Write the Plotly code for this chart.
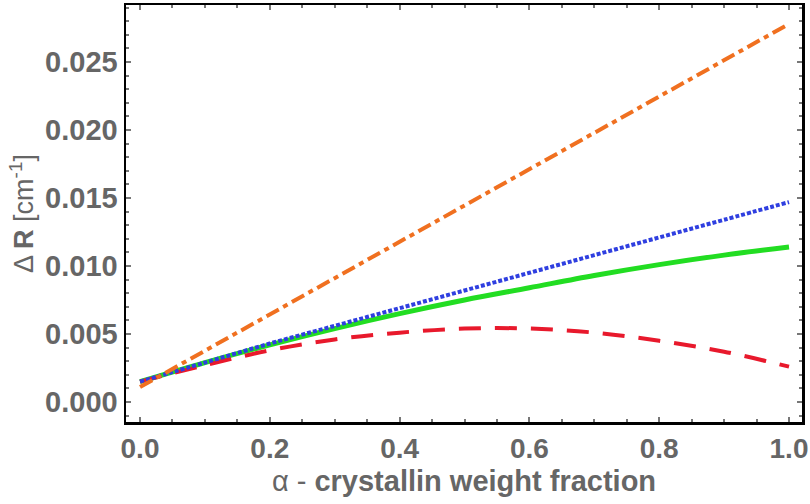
import plotly.graph_objects as go

x_vals = [0.0, 0.1, 0.2, 0.3, 0.4, 0.5, 0.6, 0.7, 0.8, 0.9, 1.0]
orange_vals = [0.0011, 0.00377, 0.00644, 0.00911, 0.01178, 0.01445, 0.01712, 0.01979, 0.02246, 0.02513, 0.0278]
blue_vals = [0.0015, 0.0029, 0.0043, 0.0056, 0.0069, 0.0082, 0.0095, 0.0108, 0.0121, 0.0134, 0.0147]
green_vals = [0.0015, 0.0029, 0.0042, 0.0054, 0.0065, 0.0075, 0.0084, 0.0093, 0.0101, 0.0108, 0.0114]
red_vals = [0.0015, 0.0027, 0.0038, 0.0046, 0.0051, 0.0054, 0.0054, 0.0051, 0.0045, 0.0037, 0.0026]

x_ticks = [0.0, 0.2, 0.4, 0.6, 0.8, 1.0]
x_tick_labels = ["0.0", "0.2", "0.4", "0.6", "0.8", "1.0"]
y_ticks = [0.0, 0.005, 0.010, 0.015, 0.020, 0.025]
y_tick_labels = ["0.000", "0.005", "0.010", "0.015", "0.020", "0.025"]

GRAY = "#666666"
FONT = "Liberation Sans, Arial, sans-serif"

fig = go.Figure()
fig.add_trace(go.Scatter(x=x_vals, y=green_vals, mode="lines", line_shape="spline",
                         line=dict(color="#22DD22", width=5)))
fig.add_trace(go.Scatter(x=x_vals, y=red_vals, mode="lines", line_shape="spline",
                         line=dict(color="#E8192C", width=4, dash="22px,14px")))
fig.add_trace(go.Scatter(x=x_vals, y=blue_vals, mode="lines", line_shape="spline",
                         line=dict(color="#2F3FE0", width=4, dash="4px,2px")))
fig.add_trace(go.Scatter(x=x_vals, y=orange_vals, mode="lines",
                         line=dict(color="#F07020", width=4, dash="14px,5px,5px,5px")))

axis_common = dict(
    showline=True, linecolor="black", linewidth=2.5, mirror="allticks",
    ticks="inside", ticklen=5, tickwidth=2, tickcolor="#777777",
    showgrid=False, zeroline=False, automargin=False,
)

fig.update_xaxes(**axis_common, range=[-0.0216, 1.02], tickvals=x_ticks, ticktext=x_tick_labels,
                 tickfont=dict(family=FONT, size=28, color=GRAY, weight="bold"),
                 minor=dict(ticks="inside", dtick=0.05, tick0=0, ticklen=3, tickwidth=2, tickcolor="#777777"),
                 title=dict(text="α - <b>crystallin weight fraction</b>",
                            font=dict(family=FONT, size=29, color=GRAY), standoff=8))
fig.update_yaxes(**axis_common, range=[-0.00147, 0.02919], tickvals=y_ticks, ticktext=y_tick_labels,
                 tickfont=dict(family=FONT, size=29, color=GRAY, weight="bold"),
                 minor=dict(ticks="inside", dtick=0.001, tick0=0, ticklen=3, tickwidth=2, tickcolor="#777777"),
                 title=dict(text="Δ <b>R</b> [cm<sup>-1</sup>]",
                            font=dict(family=FONT, size=27, color=GRAY), standoff=4))

fig.update_layout(
    width=810, height=504,
    margin=dict(l=126, r=8, t=5, b=82, autoexpand=False),
    paper_bgcolor="white", plot_bgcolor="white",
    showlegend=False,
)

fig.write_html("out.html", config={"displayModeBar": False, "staticPlot": True},
               post_script="document.body.style.margin='0';document.body.style.overflow='hidden';")
